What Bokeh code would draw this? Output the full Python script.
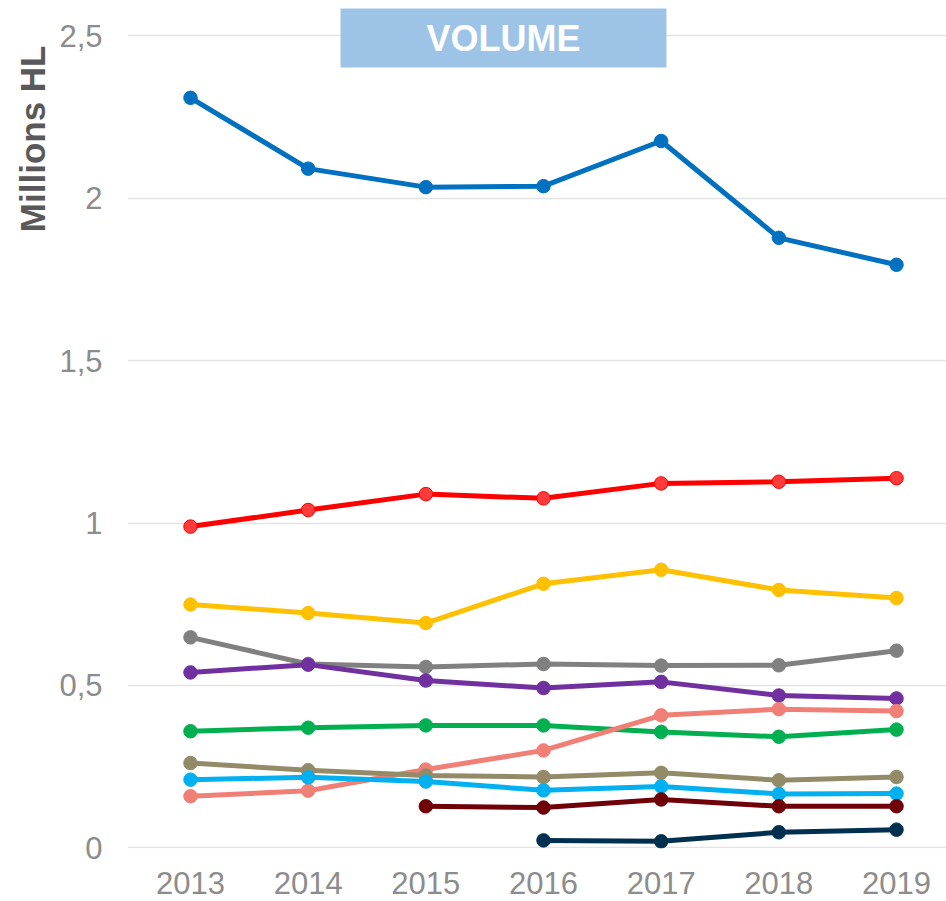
from bokeh.plotting import figure
from bokeh.models import Range1d, FixedTicker, Label, BoxAnnotation, Title
from bokeh.embed import file_html
from bokeh.resources import INLINE

nan = float("nan")

years = [2013, 2014, 2015, 2016, 2017, 2018, 2019]
year_labels = ["2013", "2014", "2015", "2016", "2017", "2018", "2019"]

s_blue = [2.309, 2.091, 2.034, 2.037, 2.176, 1.878, 1.795]
s_red = [0.989, 1.040, 1.089, 1.076, 1.122, 1.127, 1.138]
s_yellow = [0.749, 0.723, 0.692, 0.813, 0.856, 0.794, 0.769]
s_gray = [0.648, 0.566, 0.557, 0.566, 0.561, 0.562, 0.607]
s_purple = [0.540, 0.564, 0.515, 0.492, 0.511, 0.469, 0.460]
s_green = [0.359, 0.370, 0.377, 0.377, 0.357, 0.342, 0.364]
s_salmon = [0.159, 0.176, 0.241, 0.300, 0.408, 0.427, 0.421]
s_khaki = [0.261, 0.239, 0.223, 0.218, 0.231, 0.208, 0.218]
s_lightblue = [0.210, 0.217, 0.204, 0.177, 0.189, 0.166, 0.167]
s_darkred = [nan, nan, 0.128, 0.124, 0.149, 0.128, 0.128]
s_navy = [nan, nan, nan, 0.023, 0.020, 0.048, 0.056]

y_ticks = [0, 0.5, 1, 1.5, 2, 2.5]
y_tick_labels = ["0", "0,5", "1", "1,5", "2", "2,5"]

title_text = "VOLUME"
y_title = "Millions HL"

series = [
    (s_blue, "#0070C0", "#0070C0"),
    (s_red, "#FF0000", "#FF3B3B"),
    (s_yellow, "#FFC000", "#FFC000"),
    (s_gray, "#808080", "#808080"),
    (s_purple, "#7030A0", "#7030A0"),
    (s_green, "#00B050", "#00B050"),
    (s_salmon, "#F07F76", "#F07F76"),
    (s_khaki, "#938B68", "#938B68"),
    (s_lightblue, "#00B0F0", "#00B0F0"),
    (s_darkred, "#700008", "#700008"),
    (s_navy, "#00304F", "#00304F"),
]

FONT = "Liberation Sans"

p = figure(width=946, height=901, output_backend="svg", toolbar_location=None,
           x_range=Range1d(2012.4646, 2019.4248), y_range=Range1d(-0.002, 2.6086),
           min_border_left=127, min_border_right=0, min_border_top=0, min_border_bottom=53)
p.outline_line_color = None
p.background_fill_color = "white"
p.border_fill_color = "white"

p.xgrid.grid_line_color = None
p.ygrid.grid_line_color = "#E3E3E3"
p.ygrid.grid_line_width = 1.5

p.xaxis.ticker = FixedTicker(ticks=years)
p.xaxis.major_label_overrides = {y: l for y, l in zip(years, year_labels)}
p.yaxis.ticker = FixedTicker(ticks=y_ticks)
p.yaxis.major_label_overrides = {t: l for t, l in zip(y_ticks, y_tick_labels)}
p.ygrid.ticker = FixedTicker(ticks=y_ticks)

for ax in (p.xaxis, p.yaxis):
    ax.axis_line_color = None
    ax.major_tick_line_color = None
    ax.minor_tick_line_color = None
    ax.major_label_text_font = FONT
    ax.major_label_text_font_size = "31px"
    ax.major_label_text_color = "#8C8C8C"
p.xaxis.major_label_standoff = 17
p.yaxis.major_label_standoff = 19

for vals, col, fill in series:
    p.line(years, vals, line_color=col, line_width=5)
    p.scatter(years, vals, size=13.5, fill_color=fill, line_color=col, line_width=1)

# Title box
box = BoxAnnotation(left=2014.275, right=2017.045, bottom=2.4025, top=2.584,
                    fill_color="#9DC3E6", fill_alpha=1.0, line_color=None)
p.add_layout(box)
p.add_layout(Label(x=2015.66, y=2.4917, text=title_text, text_align="center",
                   text_baseline="middle", text_color="white", text_font=FONT,
                   text_font_style="bold", text_font_size="36px"))

# Y title
yt = Title(text=y_title, align="right", offset=45, text_color="#595959",
           text_font=FONT, text_font_style="bold", text_font_size="35px")
p.add_layout(yt, "left")

open("out.html", "w").write(file_html(p, INLINE))
